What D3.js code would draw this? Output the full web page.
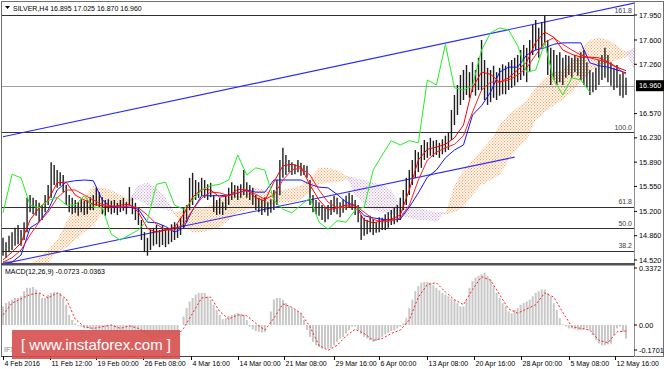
<!DOCTYPE html>
<html>
<head>
<meta charset="utf-8">
<script src="https://cdn.jsdelivr.net/npm/d3@7"></script>
<style>
body { margin: 0; background: #fff; }
svg { display: block; font-family: "Liberation Sans", Arial, sans-serif; }
</style>
</head>
<body>
<svg width="664" height="369"></svg>
<script>
// H4 bars, one entry per bar
const highs = [14.83,14.77,14.86,14.91,14.97,15.01,14.94,15.05,15.39,15.43,
    15.39,15.36,15.32,15.29,15.43,15.57,15.89,15.85,15.78,15.75,
    15.71,15.57,15.43,15.39,15.36,15.33,15.37,15.35,15.36,15.40,
    15.43,15.53,15.47,15.40,15.36,15.37,15.35,15.36,15.32,15.36,
    15.39,15.33,15.54,15.39,15.32,15.25,15.08,14.91,14.83,14.94,
    14.97,15.01,14.94,15.01,14.94,14.97,15.02,15.05,15.02,15.11,
    15.25,15.29,15.67,15.74,15.64,15.61,15.67,15.64,15.58,15.60,
    15.43,15.36,15.39,15.33,15.42,15.53,15.61,15.57,15.56,15.58,
    15.78,15.61,15.57,15.53,15.43,15.39,15.36,15.40,15.33,15.37,
    15.50,15.64,15.92,16.09,15.99,15.92,15.89,15.86,15.92,15.88,
    15.85,15.84,15.64,15.43,15.36,15.33,15.29,15.25,15.29,15.36,
    15.42,15.39,15.33,15.37,15.42,15.46,15.43,15.36,15.29,15.15,
    15.11,15.08,15.14,15.09,15.05,15.12,15.11,15.16,15.19,15.22,
    15.25,15.29,15.39,15.50,15.67,15.78,15.92,16.06,16.03,16.13,
    16.20,16.17,16.23,16.19,16.20,16.16,16.21,16.26,16.31,16.62,
    16.83,16.97,17.11,17.18,17.25,17.15,17.29,17.18,17.35,17.60,
    17.32,17.21,17.18,17.24,17.15,17.21,17.26,17.24,17.29,17.32,
    17.35,17.39,17.46,17.53,17.49,17.60,17.81,17.88,17.77,17.85,
    17.95,17.60,17.49,17.46,17.39,17.43,17.35,17.39,17.38,17.35,
    17.39,17.35,17.43,17.46,17.29,17.18,17.15,17.21,17.32,17.39,
    17.49,17.39,17.29,17.21,17.25,17.12,17.15,17.07];
const lows = [14.58,14.55,14.63,14.66,14.72,14.74,14.72,14.80,14.91,15.19,
    15.16,15.14,15.05,15.08,15.19,15.29,15.39,15.57,15.53,15.56,
    15.47,15.29,15.19,15.16,15.18,15.14,15.19,15.15,15.16,15.22,
    15.22,15.28,15.26,15.16,15.14,15.19,15.16,15.18,15.15,15.19,
    15.21,15.16,15.28,15.16,15.08,15.01,14.80,14.63,14.58,14.66,
    14.72,14.74,14.70,14.73,14.70,14.74,14.77,14.80,14.83,14.87,
    14.97,15.05,15.22,15.29,15.36,15.39,15.42,15.39,15.36,15.40,
    15.19,15.15,15.16,15.15,15.22,15.29,15.36,15.39,15.36,15.39,
    15.43,15.39,15.36,15.29,15.22,15.19,15.15,15.19,15.14,15.18,
    15.22,15.29,15.43,15.67,15.71,15.75,15.71,15.72,15.75,15.70,
    15.71,15.67,15.29,15.19,15.16,15.14,15.08,15.05,15.09,15.15,
    15.19,15.16,15.12,15.18,15.22,15.25,15.22,15.15,15.05,14.80,
    14.86,14.88,14.91,14.87,14.90,14.91,14.94,14.94,14.97,15.01,
    15.02,15.05,15.08,15.22,15.29,15.43,15.57,15.67,15.75,15.81,
    15.92,15.95,15.98,15.96,15.99,15.95,16.00,16.03,16.06,16.20,
    16.41,16.55,16.69,16.76,16.83,16.79,16.87,16.82,16.90,16.90,
    16.76,16.69,16.73,16.79,16.76,16.82,16.84,16.84,16.90,16.93,
    16.96,17.01,17.04,17.10,17.01,17.15,17.39,17.46,17.35,17.49,
    17.53,17.11,16.97,17.04,16.97,17.01,16.97,17.07,17.11,17.07,
    17.15,17.10,17.04,16.97,16.93,16.83,16.87,16.90,16.97,17.04,
    17.07,17.01,16.96,16.90,16.93,16.82,16.79,16.83];

// indicator lines, one value every 3 bars
const tenkan = [14.52,14.63,14.76,15.08,15.25,15.36,15.60,15.61,15.43,15.36,
    15.30,15.28,15.26,15.29,15.30,15.19,14.96,14.91,14.94,14.98,
    15.16,15.40,15.51,15.50,15.40,15.42,15.51,15.50,15.39,15.35,
    15.61,15.84,15.86,15.82,15.57,15.36,15.22,15.25,15.29,15.29,
    15.08,15.04,15.07,15.09,15.15,15.50,15.92,16.07,16.10,16.14,
    16.23,16.41,16.93,17.15,17.12,17.01,17.07,17.18,17.29,17.57,
    17.71,17.64,17.46,17.40,17.36,17.36,17.35,17.29,17.22,17.17];
const maRed = [14.49,14.55,14.66,14.87,15.05,15.19,15.39,15.50,15.50,15.43,
    15.36,15.30,15.28,15.26,15.28,15.25,15.15,15.02,14.94,14.94,
    15.02,15.22,15.39,15.47,15.46,15.42,15.46,15.49,15.44,15.37,
    15.43,15.64,15.78,15.81,15.71,15.50,15.33,15.25,15.26,15.28,
    15.19,15.09,15.05,15.07,15.11,15.29,15.64,15.92,16.03,16.09,
    16.14,16.26,16.59,16.90,17.01,17.01,17.04,17.11,17.21,17.39,
    17.57,17.63,17.54,17.46,17.39,17.35,17.32,17.28,17.21,17.12];
const kijun = [14.49,14.49,14.59,14.97,15.05,15.22,15.50,15.61,15.63,15.64,
    15.63,15.36,15.26,15.26,15.26,15.23,15.05,15.04,14.99,14.91,
    14.97,15.22,15.42,15.42,15.42,15.43,15.46,15.50,15.47,15.47,
    15.64,15.64,15.64,15.64,15.58,15.54,15.53,15.44,15.33,15.28,
    15.14,15.11,15.09,15.08,15.09,15.26,15.46,15.68,15.78,15.95,
    16.06,16.13,16.55,16.68,16.87,17.15,17.22,17.22,17.39,17.46,
    17.49,17.54,17.56,17.56,17.56,17.28,17.24,17.22,17.18,17.14];
const chikou = [15.18,15.72,15.67,15.29,15.25,15.35,15.40,15.29,15.29,15.42,
    15.26,15.25,14.88,14.80,14.87,14.94,15.08,15.58,15.61,15.29,
    15.23,15.36,15.50,15.56,15.58,15.64,15.99,15.71,15.81,15.78,
    15.36,15.23,15.18,15.29,15.39,15.05,14.95,15.07,15.05,15.22,
    15.26,15.78,15.99,16.19,16.13,16.19,16.16,17.04,16.97,17.54,
    16.93,16.90,16.96,17.46,17.70,17.77,17.74,17.52,17.15,17.18,
    17.56,17.04,16.83,17.07,17.04,16.87];
const spanA = [14.31,14.35,14.41,14.46,14.55,14.66,14.80,15.05,15.29,15.39,
    15.56,15.53,15.50,15.43,15.36,15.36,15.29,15.25,15.22,15.19,
    15.22,15.25,15.26,15.29,15.36,15.40,15.43,15.50,15.53,15.50,
    15.47,15.50,15.53,15.56,15.67,15.81,15.81,15.78,15.70,15.43,
    15.29,15.22,15.19,15.16,15.14,15.11,15.08,15.08,15.05,15.19,
    15.57,15.78,15.92,16.06,16.20,16.41,16.55,16.65,16.76,16.93,
    17.07,17.15,17.18,17.29,17.49,17.60,17.63,17.60,17.53,17.43,
    17.15,17.07];
const spanB = [14.10,14.13,14.17,14.21,14.27,14.49,14.63,14.69,14.80,14.91,
    15.00,15.19,15.25,15.25,15.29,15.57,15.60,15.53,15.39,15.15,
    14.97,14.91,14.91,14.94,14.97,15.08,15.18,15.22,15.25,15.28,
    15.30,15.32,15.33,15.36,15.47,15.58,15.60,15.61,15.64,15.67,
    15.64,15.60,15.57,15.50,15.29,15.26,15.25,15.22,15.19,15.16,
    15.19,15.26,15.43,15.57,15.64,15.71,15.92,16.09,16.20,16.48,
    16.59,16.69,16.76,16.87,17.01,17.15,17.24,17.29,17.32,17.35,
    17.49,17.52];

const macdHist = [0.11,0.13,0.14,0.15,0.16,0.16,0.17,0.20,0.22,0.22,
    0.225,0.21,0.19,0.16,0.16,0.18,0.19,0.195,0.19,0.19,
    0.16,0.12,0.06,0.03,0.01,-0.005,-0.01,-0.02,-0.02,-0.025,
    -0.03,-0.03,-0.03,-0.03,-0.03,-0.03,-0.035,-0.035,-0.04,-0.04,
    -0.035,-0.03,-0.03,-0.03,-0.03,-0.035,-0.04,-0.05,-0.06,-0.07,
    -0.08,-0.08,-0.075,-0.07,-0.06,-0.06,-0.055,-0.05,-0.04,0.0,
    0.05,0.10,0.14,0.16,0.18,0.19,0.19,0.19,0.17,0.15,
    0.12,0.09,0.06,0.035,0.04,0.055,0.06,0.065,0.07,0.065,
    0.06,0.03,-0.01,-0.025,-0.035,-0.04,-0.045,-0.04,0.0,0.08,
    0.15,0.16,0.16,0.15,0.13,0.11,0.10,0.09,0.08,0.07,
    0.03,-0.03,-0.07,-0.10,-0.12,-0.13,-0.14,-0.14,-0.14,-0.135,
    -0.12,-0.10,-0.08,-0.07,-0.05,-0.03,-0.01,-0.01,-0.03,-0.05,
    -0.07,-0.08,-0.09,-0.10,-0.095,-0.085,-0.07,-0.055,-0.045,-0.035,
    -0.03,-0.02,-0.01,0.01,0.04,0.10,0.15,0.20,0.23,0.25,
    0.255,0.255,0.25,0.235,0.22,0.205,0.19,0.18,0.17,0.155,
    0.15,0.13,0.11,0.11,0.15,0.22,0.26,0.28,0.29,0.30,
    0.31,0.29,0.27,0.23,0.19,0.16,0.13,0.11,0.08,0.07,
    0.09,0.10,0.12,0.13,0.14,0.15,0.17,0.19,0.20,0.21,
    0.21,0.19,0.17,0.13,0.09,0.04,0.005,-0.01,-0.02,-0.02,
    -0.025,-0.03,-0.03,-0.025,-0.02,-0.03,-0.06,-0.09,-0.11,-0.12,
    -0.12,-0.115,-0.11,-0.06,-0.02,-0.01,-0.04,-0.08];
const macdSignal = [0.06,0.13,0.155,0.18,0.19,0.16,0.19,0.155,0.035,-0.01,
    -0.02,-0.01,0.0,-0.02,-0.005,-0.02,-0.05,-0.10,-0.105,-0.08,
    -0.02,0.07,0.16,0.165,0.08,0.035,0.06,0.055,0.01,-0.03,
    0.04,0.125,0.105,0.07,-0.01,-0.12,-0.15,-0.12,-0.065,-0.025,
    -0.05,-0.09,-0.08,-0.05,-0.03,0.03,0.165,0.24,0.25,0.195,
    0.15,0.12,0.21,0.285,0.265,0.18,0.095,0.07,0.095,0.12,
    0.19,0.165,0.075,-0.01,-0.02,-0.03,-0.09,-0.105,-0.04,-0.035];

const priceTicks = [17.950, 17.600, 17.260, 16.570, 16.230, 15.890, 15.550, 15.200, 14.860, 14.520];
const lastPrice = 16.960;
const macdTicks = [0.3372, 0.00, -0.1701];
const macdTickText = ["0.3372", "0.00", "-0.1701"];
const fibNames = ["161.8", "100.0", "61.8", "50.0", "38.2"];
const fibPrices = [17.950, 16.308, 15.268, 14.965, 14.648];
// trend lines: [bar, price] pairs
const upperTrend = [[0, 16.245], [210, 18.12]];
const lowerTrend = [[0, 14.467], [170, 15.96]];
const timeLabels = ["4 Feb 2016", "11 Feb 12:00", "19 Feb 00:00", "26 Feb 08:00", "4 Mar 16:00",
    "14 Mar 00:00", "21 Mar 08:00", "29 Mar 16:00", "6 Apr 00:00", "13 Apr 08:00",
    "20 Apr 16:00", "28 Apr 00:00", "5 May 08:00", "12 May 16:00"];
const timeLabelBars = [0, 15.5, 31, 46.5, 62.5, 78, 93.5, 110, 125, 141, 156.5, 172, 188, 203.5];
const step = 3;

const plotLeft = 2, plotRight = 634;
const mainTop = 2, mainBottom = 263;
const macdTop = 266, macdBottom = 356;

const svg = d3.select("svg");

const xScale = d3.scaleLinear().domain([0, highs.length - 1]).range([3, 626]);
const yScale = d3.scaleLinear().domain([14.52, 17.95]).range([260, 15]);
const yMacd = d3.scaleLinear().domain([-0.1701, 0.3372]).range([353.8, 268]);

const defs = svg.append("defs");
defs.append("clipPath").attr("id", "mainClip")
    .append("rect").attr("x", plotLeft).attr("y", mainTop)
    .attr("width", plotRight - plotLeft).attr("height", mainBottom - mainTop);
defs.append("clipPath").attr("id", "macdClip")
    .append("rect").attr("x", plotLeft).attr("y", macdTop)
    .attr("width", plotRight - plotLeft).attr("height", macdBottom - macdTop);

function dotPattern(id, color) {
    const p = defs.append("pattern").attr("id", id)
        .attr("patternUnits", "userSpaceOnUse")
        .attr("width", 3).attr("height", 3);
    p.append("rect").attr("x", 0).attr("y", 0).attr("width", 1.2).attr("height", 1.2).attr("fill", color);
    p.append("rect").attr("x", 1.5).attr("y", 1.5).attr("width", 1.2).attr("height", 1.2).attr("fill", color);
}
dotPattern("kumoUp", "#f4a460");
dotPattern("kumoDown", "#c9a9d3");

const main = svg.append("g").attr("clip-path", "url(#mainClip)");

// kumo
const kumoUp = d3.area()
    .x((d, k) => xScale(k * step))
    .y0((d, k) => yScale(spanB[k]))
    .y1((d, k) => yScale(Math.max(spanA[k], spanB[k])));
const kumoDown = d3.area()
    .x((d, k) => xScale(k * step))
    .y0((d, k) => yScale(spanA[k]))
    .y1((d, k) => yScale(Math.max(spanA[k], spanB[k])));
main.append("path").datum(spanA).attr("d", kumoUp).attr("fill", "url(#kumoUp)");
main.append("path").datum(spanA).attr("d", kumoDown).attr("fill", "url(#kumoDown)");

// fibo levels
fibPrices.forEach((p, i) => {
    main.append("line")
        .attr("x1", plotLeft).attr("x2", plotRight)
        .attr("y1", Math.round(yScale(p)) + 0.5).attr("y2", Math.round(yScale(p)) + 0.5)
        .attr("stroke", "#303030").attr("stroke-width", 1);
    main.append("text")
        .attr("x", plotRight - 2).attr("y", yScale(p) - 2.5)
        .attr("text-anchor", "end").attr("font-size", "7px").attr("fill", "#404040")
        .text(fibNames[i]);
});

// last price line
main.append("line")
    .attr("x1", plotLeft).attr("x2", plotRight)
    .attr("y1", Math.round(yScale(lastPrice)) + 0.5).attr("y2", Math.round(yScale(lastPrice)) + 0.5)
    .attr("stroke", "#a0a0a0");

// trend lines
const trend = d3.line().x(d => xScale(d[0])).y(d => yScale(d[1]));
[upperTrend, lowerTrend].forEach(t => {
    main.append("path").datum(t).attr("d", trend)
        .attr("stroke", "#2a2aff").attr("stroke-width", 1.1).attr("fill", "none");
});

// bars
main.selectAll(".bar")
    .data(highs)
    .enter().append("line")
    .attr("class", "bar")
    .attr("x1", (d, i) => xScale(i)).attr("x2", (d, i) => xScale(i))
    .attr("y1", d => yScale(d))
    .attr("y2", (d, i) => yScale(lows[i]))
    .attr("stroke", "#1e1e1e").attr("stroke-width", 1.4);

const line = d3.line().x((d, k) => xScale(k * step)).y(d => yScale(d));
main.append("path").datum(kijun).attr("d", line).attr("stroke", "#1515ff").attr("stroke-width", 1).attr("fill", "none");
main.append("path").datum(maRed).attr("d", line).attr("stroke", "#ff2020").attr("stroke-width", 1).attr("fill", "none");
main.append("path").datum(tenkan).attr("d", line).attr("stroke", "#ff0000").attr("stroke-width", 1).attr("fill", "none");
main.append("path").datum(chikou).attr("d", line).attr("stroke", "#22ee22").attr("stroke-width", 1).attr("fill", "none");

// macd
const macd = svg.append("g").attr("clip-path", "url(#macdClip)");
macd.selectAll(".hist")
    .data(macdHist)
    .enter().append("rect")
    .attr("class", "hist")
    .attr("x", (d, i) => xScale(i) - 1)
    .attr("width", 2)
    .attr("y", d => Math.min(yMacd(d), yMacd(0)))
    .attr("height", d => Math.abs(yMacd(d) - yMacd(0)))
    .attr("fill", "#c8c8c8");
macd.append("path").datum(macdSignal)
    .attr("d", d3.line().x((d, k) => xScale(k * step)).y(d => yMacd(d)))
    .attr("stroke", "#ff2020").attr("stroke-width", 1).attr("stroke-dasharray", "2,2").attr("fill", "none");

// frames
svg.append("rect").attr("x", 1.5).attr("y", 1.5).attr("width", 662).attr("height", 355)
    .attr("fill", "none").attr("stroke", "#707070");
svg.append("line").attr("x1", plotRight + 0.5).attr("x2", plotRight + 0.5).attr("y1", 2).attr("y2", 357)
    .attr("stroke", "#909090");
svg.append("rect").attr("x", 1).attr("y", mainBottom).attr("width", plotRight).attr("height", 2.5).attr("fill", "#505050");
svg.append("line").attr("x1", 1).attr("x2", plotRight).attr("y1", macdBottom + 0.5).attr("y2", macdBottom + 0.5)
    .attr("stroke", "#404040");

// price axis
const axisG = svg.append("g").attr("font-size", "7.3px").attr("fill", "#000");
priceTicks.forEach(p => {
    axisG.append("line").attr("x1", plotRight).attr("x2", plotRight + 3)
        .attr("y1", yScale(p)).attr("y2", yScale(p)).attr("stroke", "#000");
    axisG.append("text").attr("x", plotRight + 5).attr("y", yScale(p)).attr("dy", "0.35em").text(p.toFixed(3));
});
svg.append("rect").attr("x", plotRight + 2).attr("y", yScale(lastPrice) - 5.5)
    .attr("width", 28).attr("height", 11).attr("fill", "#000");
svg.append("text").attr("x", plotRight + 5).attr("y", yScale(lastPrice)).attr("dy", "0.35em")
    .attr("font-size", "7.3px").attr("fill", "#fff").text(lastPrice.toFixed(3));

macdTicks.forEach((v, i) => {
    const y = Math.min(yMacd(v), 350);
    axisG.append("line").attr("x1", plotRight).attr("x2", plotRight + 3)
        .attr("y1", y).attr("y2", y).attr("stroke", "#000");
    axisG.append("text").attr("x", plotRight + 5).attr("y", y).attr("dy", "0.35em").text(macdTickText[i]);
});

// time axis
timeLabelBars.forEach((b, i) => {
    const x = Math.round(xScale(b)) + 0.5;
    svg.append("line").attr("x1", x).attr("x2", x).attr("y1", macdBottom).attr("y2", macdBottom + 4)
        .attr("stroke", "#000");
    svg.append("text").attr("x", x + 1).attr("y", 366).attr("font-size", "7px").attr("fill", "#000")
        .text(timeLabels[i]);
});

// titles
svg.append("path").attr("d", "M5,6 L10,6 L7.5,9 Z").attr("fill", "#000");
svg.append("text").attr("x", 13).attr("y", 10.5).attr("font-size", "7px").attr("fill", "#000")
    .text("SILVER,H4  16.895 17.025 16.870 16.960");
svg.append("text").attr("x", 5).attr("y", 274).attr("font-size", "7px").attr("fill", "#000")
    .text("MACD(12,26,9) -0.0723 -0.0363");

// watermark
svg.append("text").attr("x", 4).attr("y", 352).attr("font-size", "7px").attr("fill", "#808080")
    .text("IFX");
svg.append("rect").attr("x", 12).attr("y", 330).attr("width", 168).attr("height", 29)
    .attr("fill", "#d64f4f").attr("fill-opacity", 0.9);
svg.append("text").attr("x", 96).attr("y", 350).attr("text-anchor", "middle")
    .attr("font-size", "15px").attr("fill", "#fff")
    .text("[ www.instaforex.com ]");
</script>
</body>
</html>
